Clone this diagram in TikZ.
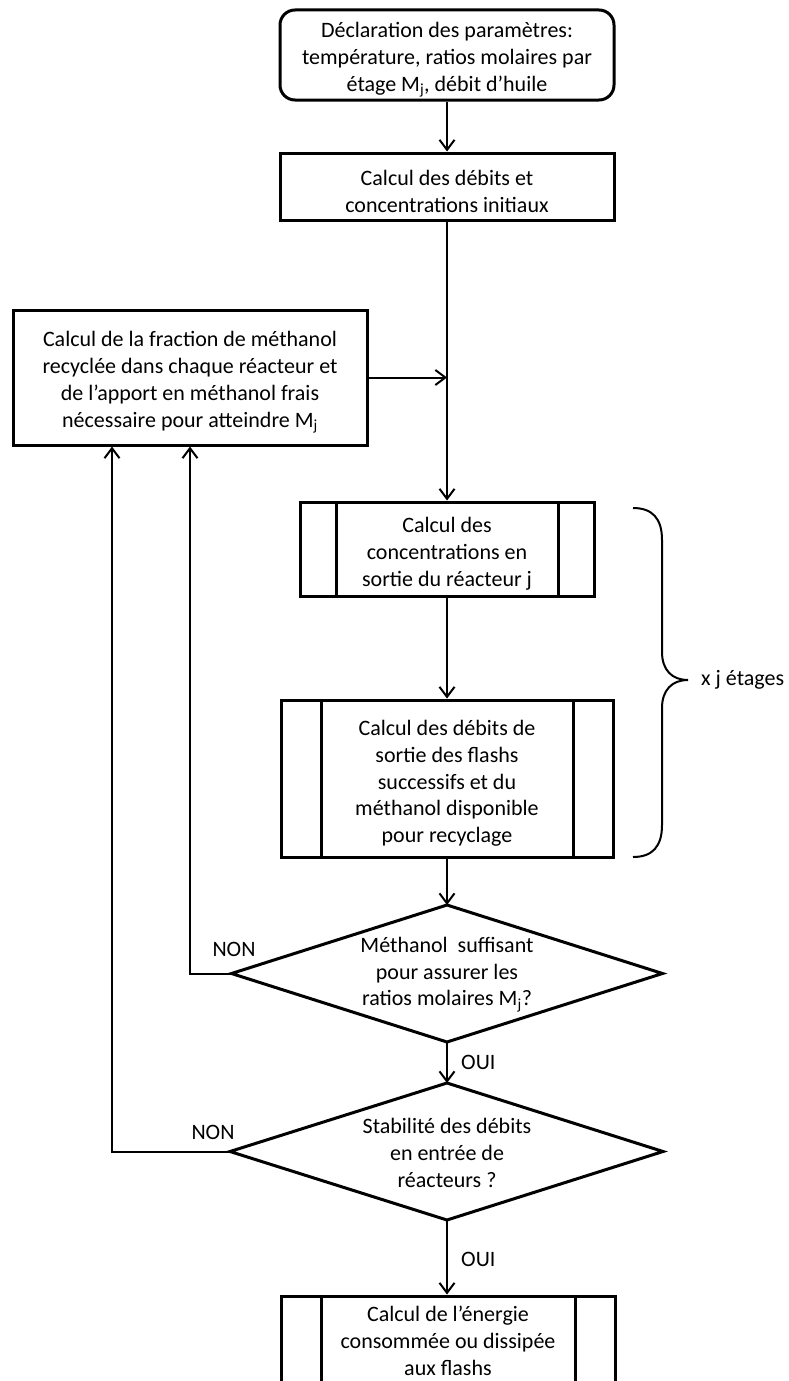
\documentclass[tikz,border=0pt]{standalone}
\usepackage{fontspec}
\setmainfont{Carlito}
\usetikzlibrary{arrows.meta}
\newcommand\tup{\rule{0pt}{25pt}}
\begin{document}
\begin{tikzpicture}[x=1pt,y=-1pt,
  txt/.style={font=\fontsize{22}{26.8}\selectfont},
  base/.style={txt, draw, line width=3pt, align=center, inner sep=0pt},
  box/.style={base, rectangle},
  subproc/.style={box, path picture={
      \draw[line width=3pt]
        ([xshift=#1]path picture bounding box.north west) -- ([xshift=#1]path picture bounding box.south west)
        ([xshift=-#1]path picture bounding box.north east) -- ([xshift=-#1]path picture bounding box.south east);}},
  dtext/.style={txt, align=center, inner sep=0pt},
  dshape/.style={line width=3pt},
  arr/.style={line width=2pt, -{Straight Barb[length=10pt,width=15pt]}},
  lbl/.style={txt, inner sep=0pt},
  bracestyle/.style={line width=2pt}
]
\clip (0,0) rectangle (788,1381);
\fill[white] (0,0) rectangle (788,1381);

\node[box, rounded corners=15pt, minimum width=334pt, minimum height=90pt] (top) at (447,55)
  {\tup Déclaration des paramètres:\\température, ratios molaires par\\étage M\textsubscript{j}, débit d’huile};
\node[box, minimum width=334pt, minimum height=67pt] (init) at (447,186.5)
  {\tup Calcul des débits et\\concentrations initiaux};
\node[box, minimum width=354pt, minimum height=135pt] (frac) at (190,377.5)
  {\tup Calcul de la fraction de méthanol\\recyclée dans chaque réacteur et\\de l’apport en méthanol frais\\nécessaire pour atteindre M\textsubscript{j}};
\node[subproc=36pt, minimum width=294pt, minimum height=94pt] (reac) at (447,549)
  {\tup Calcul des\\concentrations en\\sortie du réacteur j};
\node[subproc=40pt, minimum width=332pt, minimum height=157pt] (flash) at (447,778.5)
  {\tup Calcul des débits de\\sortie des flashs\\successifs et du\\méthanol disponible\\pour recyclage};

% decision 1
\coordinate (d1n) at (447,905);
\coordinate (d1s) at (447,1042);
\coordinate (d1w) at (231.5,973.5);
\coordinate (d1e) at (662.5,973.5);
\draw[dshape] (d1n) -- (d1e) -- (d1s) -- (d1w) -- cycle;
\node[dtext] (d1) at (447,974.5)
  {Méthanol\ \ suffisant\\pour assurer les\\ratios molaires M\textsubscript{j}?};

% decision 2
\coordinate (d2n) at (447,1083);
\coordinate (d2s) at (447,1220);
\coordinate (d2w) at (230,1151.5);
\coordinate (d2e) at (663,1151.5);
\draw[dshape] (d2n) -- (d2e) -- (d2s) -- (d2w) -- cycle;
\node[dtext] (d2) at (447,1153)
  {Stabilité des débits\\en entrée de\\réacteurs ?};

\node[subproc=40pt, minimum width=334pt, minimum height=90pt] (energy) at (448,1341)
  {Calcul de l’énergie\\consommée ou dissipée\\aux flashs};

\coordinate (merge) at (frac.east -| init.south);
\draw[arr] (top) -- (init);
\draw[arr] (init) -- (reac);
\draw[arr] (frac.east) -- (merge);
\draw[arr] (reac) -- (flash);
\draw[arr] (flash.south) -- (d1n);
\draw[arr] (d1s) -- (d2n);
\draw[arr] (d2s) -- (energy.north -| d2s);
\draw[arr] (d1w) -| (frac.south);
\draw[arr] (d2w) -| ([xshift=-78pt]frac.south);

\node[lbl] (non1) at (234,949) {NON};
\node[lbl] (non2) at (213,1132) {NON};
\node[lbl, anchor=west] (oui1) at (461,1062) {OUI};
\node[lbl, anchor=west] (oui2) at (461,1259) {OUI};

\draw[bracestyle] (633,508) .. controls (652,508) and (662,518) .. (662,540)
  -- (662,652) .. controls (662,670) and (672,680) .. (688,680)
  .. controls (672,680) and (662,690) .. (662,708)
  -- (662,825) .. controls (662,847) and (652,857) .. (633,857);
\node[lbl, anchor=west] (etages) at (701,680) {x j étages};
\end{tikzpicture}
\end{document}
